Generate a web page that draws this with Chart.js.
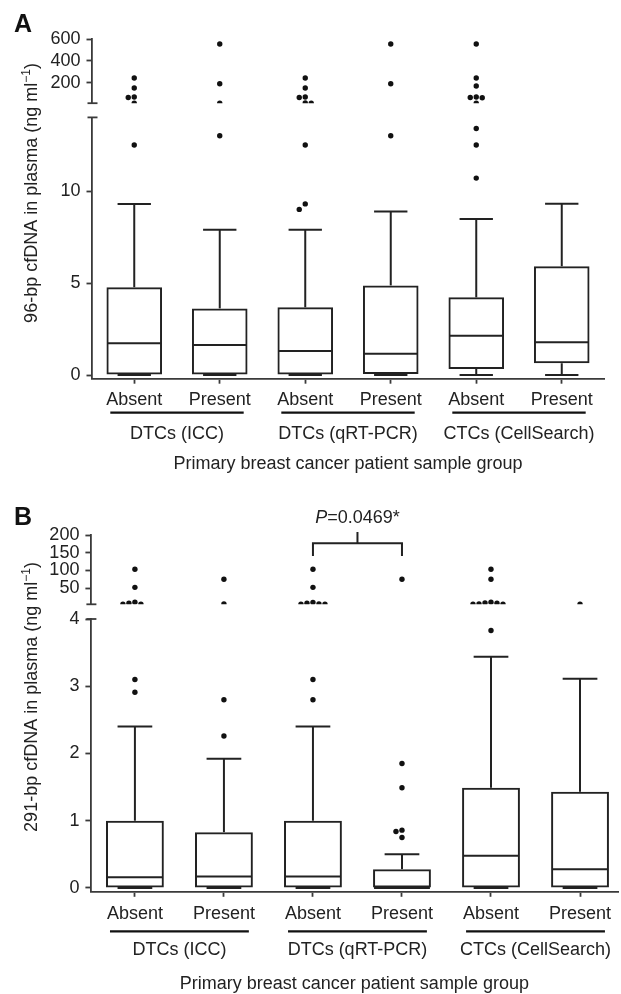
<!DOCTYPE html>
<html lang="en">
<head>
  <meta charset="UTF-8" />
  <title>cfDNA in plasma by patient group</title>
  <script src="https://cdn.jsdelivr.net/npm/chart.js"></script>
  <style>
    body { margin: 0; background: #fff; }
    canvas.panel { position: absolute; left: 0; }
  </style>
</head>
<body>
  <canvas id="panelA" class="panel" width="621" height="497" style="top:0"></canvas>
  <canvas id="panelB" class="panel" width="621" height="497" style="top:497px"></canvas>

  <script>
    const categories = ['Absent', 'Present', 'Absent', 'Present', 'Absent', 'Present'];
    const groupNames = ['DTCs (ICC)', 'DTCs (qRT-PCR)', 'CTCs (CellSearch)'];
    const xTitle = 'Primary breast cancer patient sample group';

    // A: 96-bp cfDNA (ng/ml)
    const box96Min = [0, 0, 0, 0, 0, 0];
    const box96Q1 = [0, 0, 0, 0.05, 0.33, 0.64];
    const box96Median = [1.72, 1.63, 1.3, 1.16, 2.14, 1.78];
    const box96Q3 = [4.77, 3.62, 3.68, 4.87, 4.22, 5.91];
    const box96Max = [9.3, 7.9, 7.9, 8.88, 8.48, 9.31];
    const outliers96 = [
      [244, 153, 70, 66, 15, 12.5],
      [554, 192, 15, 13.0],
      [244, 153, 70, 66, 16, 14.5, 12.5, 9.3, 9.0],
      [554, 192, 13.0],
      [554, 244, 171, 70, 66, 64, 15, 13.4, 12.5, 10.7],
      []
    ];
    const ticks96Low = [0, 5, 10];
    const ticks96High = [200, 400, 600];

    // B: 291-bp cfDNA (ng/ml)
    const box291Min = [0, 0, 0, 0, 0, 0];
    const box291Q1 = [0, 0, 0, 0, 0, 0];
    const box291Median = [0.16, 0.17, 0.17, 0, 0.48, 0.28];
    const box291Q3 = [1.0, 0.83, 1.0, 0.28, 1.49, 1.43];
    const box291Max = [2.4, 1.92, 2.4, 0.5, 3.44, 3.11];
    const outliers291 = [
      [103, 52, 10, 7, 4.6, 4.4, 3.1, 2.91],
      [75, 5, 2.8, 2.26],
      [103, 52, 9, 7, 4.8, 4.5, 4.3, 3.1, 2.8],
      [75, 1.85, 1.49, 0.86, 0.84, 0.75],
      [103, 75, 10, 8, 7, 4.7, 4.5, 4.3, 3.83],
      [4.5]
    ];
    const ticks291Low = [0, 1, 2, 3, 4];
    const ticks291High = [50, 100, 150, 200];
    const pValueText = '=0.0469*';

    const ink = '#222';
    const axisInk = '#3a3a3a';
    const fontFamily = "'Liberation Sans', Arial, Helvetica, sans-serif";
    Chart.defaults.font.family = fontFamily;
    Chart.defaults.font.size = 18;
    Chart.defaults.color = ink;

    const panelA = {
      canvas: 'panelA', letter: 'A', letterY: 32,
      yTitle: '96-bp cfDNA in plasma (ng ml', yTitleMid: 193,
      min: box96Min, q1: box96Q1, median: box96Median, q3: box96Q3, max: box96Max,
      outliers: outliers96, lowTicks: ticks96Low, highTicks: ticks96High,
      breakAt: 14, lowMin: -0.2, highMax: 600, xMax: 5.5,
      area: { left: 91.5, right: 604.5, top: 39, bottom: 378.7 },
      stackPx: [64.2, 14.2, 261.3],
      underline: 34, groupBase: 60, titleBase: 90
    };
    const panelB = {
      canvas: 'panelB', letter: 'B', letterY: 28,
      yTitle: '291-bp cfDNA in plasma (ng ml', yTitleMid: 200,
      min: box291Min, q1: box291Q1, median: box291Median, q3: box291Q3, max: box291Max,
      outliers: outliers291, lowTicks: ticks291Low, highTicks: ticks291High,
      breakAt: 4, lowMin: -0.057, highMax: 200, xMax: 5.43,
      area: { left: 90.4, right: 620, top: 38, bottom: 394.8 },
      stackPx: [69.3, 14.7, 272.8],
      underline: 39.5, groupBase: 63.5, titleBase: 97,
      bracket: { from: 2, to: 3, text: -11.7, line: 8.3, legs: 21, tick: -3 }
    };

    const Y_AXIS_W = 60;
    const X_AXIS_H = 100;

    function seg(ctx, x1, y1, x2, y2) {
      ctx.beginPath();
      ctx.moveTo(x1, y1);
      ctx.lineTo(x2, y2);
      ctx.stroke();
    }

    function drawWhiskers(chart, p) {
      const ctx = chart.ctx;
      const y = chart.scales.yLow;
      const bars = chart.getDatasetMeta(0).data;
      ctx.save();
      ctx.strokeStyle = ink;
      ctx.lineWidth = 2;
      bars.forEach((bar, i) => {
        const half = bar.width / 2 - 1;
        const cap = bar.width * 0.3;
        const yMed = y.getPixelForValue(p.median[i]);
        seg(ctx, bar.x - half, yMed, bar.x + half, yMed);
        const yQ3 = y.getPixelForValue(p.q3[i]);
        const yMax = y.getPixelForValue(p.max[i]);
        seg(ctx, bar.x, yQ3, bar.x, yMax);
        seg(ctx, bar.x - cap, yMax, bar.x + cap, yMax);
        const yQ1 = y.getPixelForValue(p.q1[i]);
        const yMin = y.getPixelForValue(p.min[i]);
        seg(ctx, bar.x, yQ1, bar.x, yMin);
        seg(ctx, bar.x - cap, yMin, bar.x + cap, yMin);
      });
      ctx.restore();
    }

    function drawLabels(chart, p) {
      const ctx = chart.ctx;
      const area = chart.chartArea;
      const xs = chart.scales.x;
      ctx.save();
      ctx.strokeStyle = axisInk;
      ctx.lineWidth = 1.8;
      // axis break caps
      seg(ctx, area.left - 4, chart.scales.yHigh.bottom, area.left + 6, chart.scales.yHigh.bottom);
      seg(ctx, area.left - 4, chart.scales.yLow.top, area.left + 6, chart.scales.yLow.top);

      ctx.fillStyle = ink;
      ctx.strokeStyle = '#111';
      ctx.font = '18px ' + fontFamily;
      ctx.textAlign = 'center';
      ctx.textBaseline = 'alphabetic';
      groupNames.forEach((name, g) => {
        const x0 = xs.getPixelForValue(2 * g - 0.28);
        const x1 = xs.getPixelForValue(2 * g + 1.28);
        ctx.lineWidth = 2.2;
        seg(ctx, x0, area.bottom + p.underline, x1, area.bottom + p.underline);
        ctx.fillText(name, (x0 + x1) / 2, area.bottom + p.groupBase);
      });
      ctx.fillText(xTitle, (area.left + area.right) / 2, area.bottom + p.titleBase);

      // y title with superscript
      ctx.save();
      ctx.translate(36.5, p.yTitleMid);
      ctx.rotate(-Math.PI / 2);
      ctx.textAlign = 'left';
      const w1 = ctx.measureText(p.yTitle).width;
      ctx.font = '12px ' + fontFamily;
      const sup = '\u22121';
      const w2 = ctx.measureText(sup).width;
      ctx.font = '18px ' + fontFamily;
      const w3 = ctx.measureText(')').width;
      let tx = -(w1 + w2 + w3) / 2;
      ctx.fillText(p.yTitle, tx, 0);
      tx += w1;
      ctx.font = '12px ' + fontFamily;
      ctx.fillText(sup, tx, -7);
      tx += w2;
      ctx.font = '18px ' + fontFamily;
      ctx.fillText(')', tx, 0);
      ctx.restore();

      // panel letter
      ctx.font = 'bold 25px ' + fontFamily;
      ctx.textAlign = 'left';
      ctx.fillStyle = '#111';
      ctx.fillText(p.letter, 14, p.letterY);

      if (p.bracket) {
        const b = p.bracket;
        const xa = xs.getPixelForValue(b.from);
        const xb = xs.getPixelForValue(b.to);
        const top = area.top;
        ctx.lineWidth = 2;
        ctx.strokeStyle = ink;
        ctx.beginPath();
        ctx.moveTo(xa, top + b.legs);
        ctx.lineTo(xa, top + b.line);
        ctx.lineTo(xb, top + b.line);
        ctx.lineTo(xb, top + b.legs);
        ctx.stroke();
        const xm = (xa + xb) / 2;
        seg(ctx, xm, top + b.line, xm, top + b.tick);
        ctx.fillStyle = ink;
        ctx.font = 'italic 18px ' + fontFamily;
        const wp = ctx.measureText('P').width;
        ctx.font = '18px ' + fontFamily;
        const wr = ctx.measureText(pValueText).width;
        const px = xm - (wp + wr) / 2;
        ctx.font = 'italic 18px ' + fontFamily;
        ctx.fillText('P', px, top + b.text);
        ctx.font = '18px ' + fontFamily;
        ctx.fillText(pValueText, px + wp, top + b.text);
      }
      ctx.restore();
    }

    // spread outliers sideways where they would overlap (beeswarm)
    function spreadOutliers(chart) {
      const xs = chart.scales.x;
      const unit = xs.getPixelForValue(1) - xs.getPixelForValue(0);
      const d = 6;
      const items = [];
      chart.data.datasets.forEach(ds => {
        if (ds.type !== 'scatter') return;
        const ys = chart.scales[ds.yAxisID];
        ds.data.forEach(pt => items.push({ pt, py: ys.getPixelForValue(pt.y) }));
      });
      items.sort((a, b) => a.py - b.py);
      const placed = {};
      items.forEach(it => {
        const list = placed[it.pt.g] || (placed[it.pt.g] = []);
        let off = 0;
        for (let n = 0; n < 30; n++) {
          const cand = n === 0 ? 0 : (n % 2 ? -1 : 1) * Math.ceil(n / 2) * d;
          if (list.every(q => Math.hypot(q.ox - cand, q.py - it.py) >= d * 0.97)) { off = cand; break; }
        }
        list.push({ ox: off, py: it.py });
        it.pt.x = it.pt.g + off / unit;
      });
      chart.update('none');
    }

    function yAxis(extra) {
      return Object.assign({
        type: 'linear',
        position: 'left',
        stack: 'y',
        offset: false,
        grid: { display: true, drawOnChartArea: false, drawTicks: true, tickLength: 5, tickWidth: 1.8, tickColor: axisInk },
        border: { display: true, color: axisInk, width: 1.8 },
        ticks: { padding: 6, color: ink, autoSkip: false },
        afterFit: s => { s.width = Y_AXIS_W; }
      }, extra);
    }

    function makePanel(p) {
      const high = [];
      const low = [];
      p.outliers.forEach((vals, g) => vals.forEach(v => (v > p.breakAt ? high : low).push({ x: g, y: v, g })));
      const dots = { pointRadius: 2.7, pointBackgroundColor: '#111', pointBorderWidth: 0, pointHoverRadius: 2.7 };

      const chart = new Chart(document.getElementById(p.canvas), {
        type: 'bar',
        data: {
          datasets: [
            {
              type: 'bar',
              data: p.q1.map((q, i) => ({ x: i, y: [q, p.q3[i]] })),
              yAxisID: 'yLow',
              backgroundColor: 'rgba(0,0,0,0)',
              borderColor: ink,
              borderWidth: 2,
              borderSkipped: false,
              categoryPercentage: 1,
              barPercentage: 0.65
            },
            Object.assign({ type: 'scatter', data: high, yAxisID: 'yHigh' }, dots),
            Object.assign({ type: 'scatter', data: low, yAxisID: 'yLow' }, dots)
          ]
        },
        options: {
          responsive: false,
          animation: false,
          events: [],
          layout: {
            padding: {
              left: p.area.left - Y_AXIS_W,
              right: 621 - p.area.right,
              top: p.area.top,
              bottom: 497 - p.area.bottom - X_AXIS_H
            }
          },
          plugins: { legend: { display: false }, tooltip: { enabled: false } },
          scales: {
            x: {
              type: 'linear',
              position: 'bottom',
              min: -0.5,
              max: p.xMax,
              offset: false,
              grid: { display: true, offset: false, drawOnChartArea: false, drawTicks: true, tickLength: 5, tickWidth: 1.8, tickColor: axisInk },
              border: { display: true, color: axisInk, width: 1.8 },
              ticks: { padding: 6, color: ink, autoSkip: false, maxRotation: 0, callback: v => categories[v] },
              afterBuildTicks: s => { s.ticks = categories.map((c, i) => ({ value: i })); },
              afterFit: s => { s.height = X_AXIS_H; }
            },
            yLow: yAxis({
              weight: 1, stackWeight: p.stackPx[2], min: p.lowMin, max: p.breakAt,
              afterBuildTicks: s => { s.ticks = p.lowTicks.map(v => ({ value: v })); }
            }),
            yGap: yAxis({
              weight: 2, stackWeight: p.stackPx[1], min: 0, max: 1,
              grid: { display: false }, border: { display: false }, ticks: { display: false }
            }),
            yHigh: yAxis({
              weight: 3, stackWeight: p.stackPx[0], min: p.breakAt, max: p.highMax,
              afterBuildTicks: s => { s.ticks = p.highTicks.map(v => ({ value: v })); }
            })
          }
        },
        plugins: [{
          id: 'boxDecor',
          afterDatasetsDraw: chart => drawWhiskers(chart, p),
          afterDraw: chart => drawLabels(chart, p)
        }]
      });
      spreadOutliers(chart);
      return chart;
    }

    makePanel(panelA);
    makePanel(panelB);
  </script>
</body>
</html>
